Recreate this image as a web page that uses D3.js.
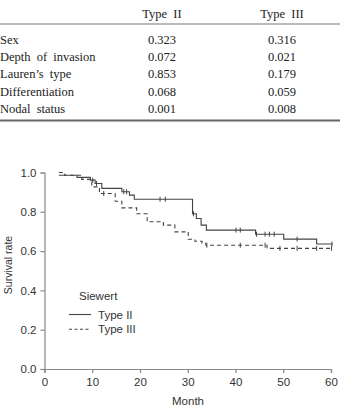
<!DOCTYPE html>
<html>
<head>
<meta charset="utf-8">
<script src="https://cdn.jsdelivr.net/npm/d3@7"></script>
<style>
  body { margin: 0; background: #fff; }
  svg { display: block; }
</style>
</head>
<body>
<script>
// table data
const tableHeaders = ["Type II", "Type III"];
const tableLabels = ["Sex", "Depth of invasion", "Lauren\u2019s type", "Differentiation", "Nodal status"];
const typeIIP = ["0.323", "0.072", "0.853", "0.068", "0.001"];
const typeIIIP = ["0.316", "0.021", "0.179", "0.059", "0.008"];

// survival curves (step times and survival after the step)
const type2Times = [3.0, 6.8, 9.6, 10.6, 12.0, 16.2, 17.8, 18.8, 31.0, 31.8, 32.8, 33.9, 44.2, 50.1, 57.0];
const type2Surv  = [0.986, 0.975, 0.961, 0.944, 0.919, 0.902, 0.885, 0.864, 0.79, 0.766, 0.732, 0.707, 0.686, 0.661, 0.636];
const type2End = 60.3;
const type2Censor = [10.1, 10.9, 16.6, 17.2, 24.2, 25.3, 31.2, 40.1, 41.0, 44.4, 46.2, 47.1, 48.1, 52.9, 60.2];

const type3Times = [3.0, 4.2, 7.8, 9.9, 11.5, 14.8, 16.2, 19.3, 21.5, 24.9, 27.3, 30.1, 31.5, 33.0, 33.8, 46.6];
const type3Surv  = [1.0, 0.986, 0.965, 0.927, 0.893, 0.854, 0.82, 0.79, 0.749, 0.732, 0.698, 0.66, 0.65, 0.64, 0.63, 0.614];
const type3End = 60.2;
const type3Censor = [12.4, 34.0, 41.0, 46.2, 49.3, 52.9, 57.0, 60.1];

const xTicks = [0, 10, 20, 30, 40, 50, 60];
const yTicks = [0, 0.2, 0.4, 0.6, 0.8, 1.0];

const width = 340, height = 409;
const svg = d3.select("body").append("svg")
  .attr("width", width)
  .attr("height", height);

// ---- table ----
const serif = "'Liberation Serif', 'Times New Roman', serif";
const colX = [162, 282];
const rowY = d3.scalePoint().domain(d3.range(tableLabels.length)).range([39.5, 108.5]);

svg.selectAll(".hdr")
  .data(tableHeaders)
  .enter().append("text")
  .attr("x", (d, i) => colX[i])
  .attr("y", 14)
  .attr("dy", "0.35em")
  .attr("text-anchor", "middle")
  .style("font-family", serif)
  .style("font-size", "12.5px")
  .style("word-spacing", "3px")
  .attr("fill", "#222")
  .text(d => d);

svg.append("line")
  .attr("x1", 0).attr("x2", width)
  .attr("y1", 24).attr("y2", 24)
  .attr("stroke", "#777").attr("stroke-width", 1.2);

svg.append("line")
  .attr("x1", 0).attr("x2", width)
  .attr("y1", 120.5).attr("y2", 120.5)
  .attr("stroke", "#666").attr("stroke-width", 1.8);

const rows = svg.selectAll(".row")
  .data(tableLabels)
  .enter().append("g")
  .attr("transform", (d, i) => "translate(0," + rowY(i) + ")");

rows.append("text")
  .attr("x", 0)
  .attr("dy", "0.35em")
  .style("font-family", serif)
  .style("font-size", "12.5px")
  .style("word-spacing", "3px")
  .attr("fill", "#222")
  .text(d => d);

rows.append("text")
  .attr("x", colX[0])
  .attr("dy", "0.35em")
  .attr("text-anchor", "middle")
  .style("font-family", serif)
  .style("font-size", "12.5px")
  .attr("fill", "#222")
  .text((d, i) => typeIIP[i]);

rows.append("text")
  .attr("x", colX[1])
  .attr("dy", "0.35em")
  .attr("text-anchor", "middle")
  .style("font-family", serif)
  .style("font-size", "12.5px")
  .attr("fill", "#222")
  .text((d, i) => typeIIIP[i]);

// ---- KM plot ----
const sans = "'Liberation Sans', Arial, sans-serif";
const x = d3.scaleLinear().domain([0, 60]).range([44.5, 331]);
const y = d3.scaleLinear().domain([0, 1]).range([369, 172.5]);

const xAxis = svg.append("g")
  .attr("transform", "translate(0," + y(0) + ")")
  .call(d3.axisBottom(x).tickValues(xTicks).tickFormat(d3.format("d")).tickSizeOuter(0).tickSize(4));

const yAxis = svg.append("g")
  .attr("transform", "translate(" + x(0) + ",0)")
  .call(d3.axisLeft(y).tickValues(yTicks).tickFormat(d3.format(".1f")).tickSizeOuter(0).tickSize(4));

[xAxis, yAxis].forEach(function(a){
  a.select(".domain").attr("stroke", "#888").attr("stroke-width", 1.2);
  a.selectAll(".tick line").attr("stroke", "#888").attr("stroke-width", 1.2);
  a.selectAll(".tick text")
    .style("font-family", sans)
    .style("font-size", "11.5px")
    .attr("fill", "#333");
});
xAxis.selectAll(".tick text").attr("dy", "0.9em");
yAxis.selectAll(".tick text").attr("x", -8);

svg.append("text")
  .attr("x", 188)
  .attr("y", 401)
  .attr("dy", "0.35em")
  .attr("text-anchor", "middle")
  .style("font-family", sans)
  .style("font-size", "11.5px")
  .attr("fill", "#333")
  .text("Month");

svg.append("text")
  .attr("transform", "translate(8.5,265) rotate(-90)")
  .attr("dy", "0.35em")
  .attr("text-anchor", "middle")
  .style("font-family", sans)
  .style("font-size", "10.5px")
  .attr("fill", "#333")
  .text("Survival rate");

function stepPoints(times, surv, end) {
  let pts = times.map((t, i) => [t, surv[i]]);
  pts.push([end, surv[surv.length - 1]]);
  return pts;
}

function survAt(times, surv, t) {
  let s = surv[0];
  for (let i = 0; i < times.length; i++) {
    if (times[i] <= t) s = surv[i];
  }
  return s;
}

const line = d3.line()
  .x(d => x(d[0]))
  .y(d => y(d[1]))
  .curve(d3.curveStepAfter);

const series = [
  {times: type2Times, surv: type2Surv, end: type2End, censor: type2Censor, dash: null},
  {times: type3Times, surv: type3Surv, end: type3End, censor: type3Censor, dash: "4,3"}
];

series.forEach(function(s){
  svg.append("path")
    .datum(stepPoints(s.times, s.surv, s.end))
    .attr("d", line)
    .attr("fill", "none")
    .attr("stroke", "#444")
    .attr("stroke-width", 1.1)
    .attr("stroke-dasharray", s.dash);

  svg.selectAll(null)
    .data(s.censor)
    .enter().append("line")
    .attr("x1", d => x(d)).attr("x2", d => x(d))
    .attr("y1", d => y(survAt(s.times, s.surv, d)) - 2.5)
    .attr("y2", d => y(survAt(s.times, s.surv, d)) + 2.5)
    .attr("stroke", "#444")
    .attr("stroke-width", 1);
});

// legend
svg.append("text")
  .attr("x", 79).attr("y", 296)
  .attr("dy", "0.35em")
  .style("font-family", sans)
  .style("font-size", "11.5px")
  .attr("fill", "#333")
  .text("Siewert");

const legendItems = ["Type II", "Type III"];
const legendDash = [null, "3,2.5"];
const lg = svg.selectAll(".lg")
  .data(legendItems)
  .enter().append("g")
  .attr("transform", (d, i) => "translate(0," + (314.5 + i * 14.7) + ")");

lg.append("line")
  .attr("x1", 69).attr("x2", 91)
  .attr("stroke", "#444").attr("stroke-width", 1.1)
  .attr("stroke-dasharray", (d, i) => legendDash[i]);

lg.append("text")
  .attr("x", 98)
  .attr("dy", "0.35em")
  .style("font-family", sans)
  .style("font-size", "11.5px")
  .attr("fill", "#333")
  .text(d => d);
</script>
</body>
</html>
